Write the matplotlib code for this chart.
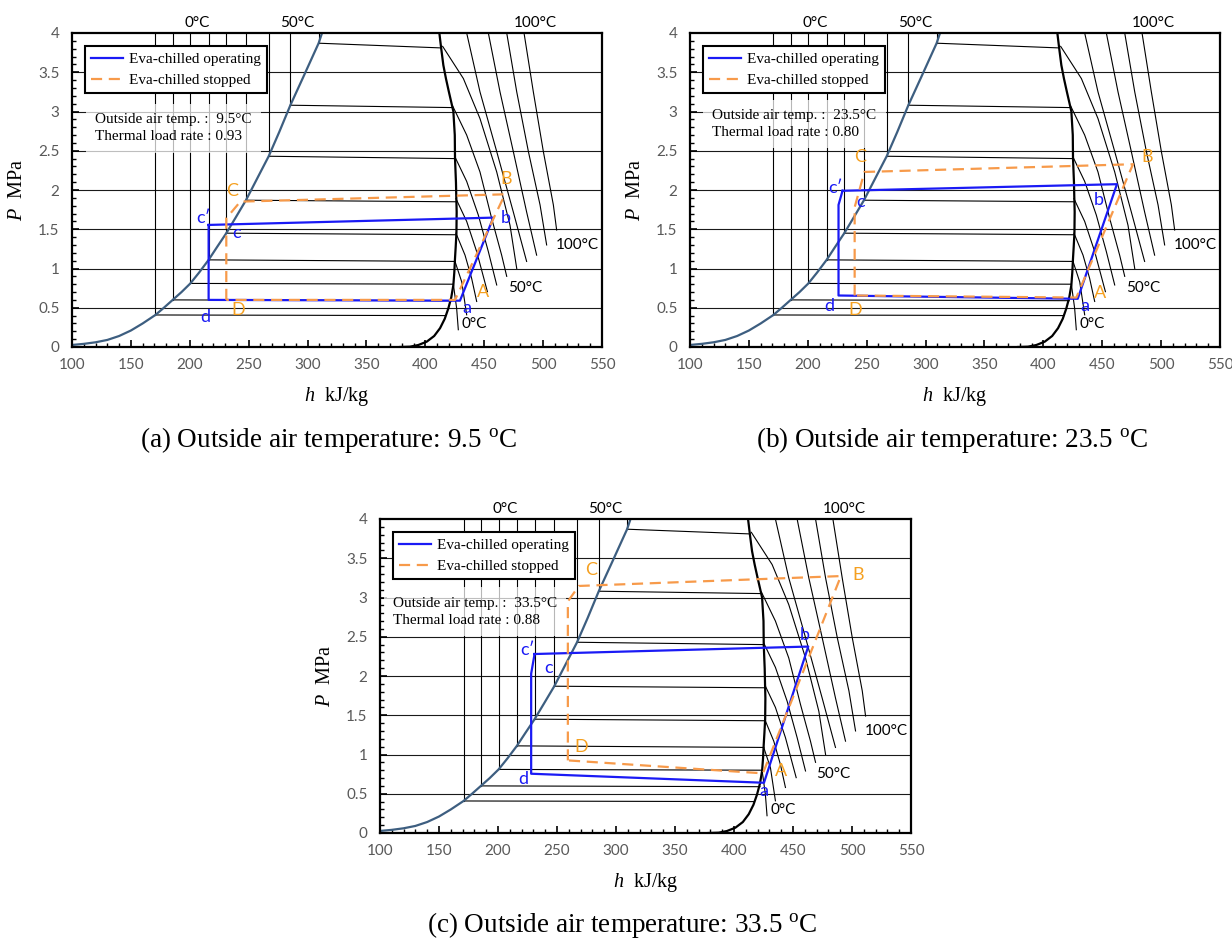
import matplotlib
matplotlib.use('Agg')
import matplotlib.pyplot as plt
from matplotlib.ticker import MultipleLocator

plt.rcParams['mathtext.fontset'] = 'custom'
plt.rcParams['mathtext.rm'] = 'Liberation Serif'
plt.rcParams['mathtext.it'] = 'Liberation Serif:italic'

# ---------------- background P-h chart (R410A-like) ----------------
liq_h = [100.0, 110.0, 120.0, 130.0, 140.0, 150.0, 160.0, 170.8, 178.0, 185.5, 193.0, 200.5,
         208.0, 216.0, 223.0, 231.0, 239.0, 247.7, 257.0, 267.0, 276.0, 285.4, 297.0, 309.4, 312.3]
liq_P = [0.026, 0.04, 0.06, 0.09, 0.14, 0.21, 0.30, 0.408, 0.50, 0.60, 0.70, 0.81,
         0.95, 1.11, 1.27, 1.45, 1.65, 1.87, 2.14, 2.43, 2.74, 3.08, 3.46, 3.87, 4.0]

vap_h = [411.9, 413.5, 415.3, 417.5, 420.0, 422.3, 423.8, 425.0, 425.2, 426.0, 426.3, 426.6,
         426.4, 425.8, 425.2, 424.6, 423.8, 422.0, 419.5, 416.5, 412.5, 407.5, 401.2, 394.0,
         387.0, 378.5]
vap_P = [4.0, 3.8, 3.59, 3.42, 3.25, 3.10, 3.00, 2.70, 2.40, 2.10, 1.90, 1.72,
         1.45, 1.28, 1.13, 0.95, 0.79, 0.63, 0.49, 0.36, 0.24, 0.14, 0.068, 0.025,
         0.004, 0.0]

# liquid-side isotherms (-20 .. 60 degC): vertical from saturated liquid to top
liqiso_h = [170.8, 185.5, 200.5, 216.0, 231.0, 247.7, 267.0, 285.4, 309.4]
liqiso_P = [0.408, 0.60, 0.81, 1.11, 1.45, 1.87, 2.43, 3.08, 3.87]
# two-phase isotherms end on the vapor line
tpiso_h_end = [417.0, 422.0, 423.8, 425.2, 426.3, 426.3, 425.2, 422.8, 413.5]
tpiso_P_end = [0.40, 0.59, 0.80, 1.09, 1.43, 1.85, 2.40, 3.05, 3.81]

# superheated isotherms 0 .. 100 degC
sh_h = [
    [423.8, 426.6, 428.0],
    [425.2, 430.9, 435.1],
    [426.0, 433.7, 439.3, 443.6],
    [426.0, 435.1, 443.6, 452.7],
    [425.2, 435.1, 445.0, 453.5, 460.6],
    [423.2, 435.1, 446.4, 456.3, 464.8, 469.1],
    [414.7, 432.3, 446.4, 460.6, 471.9, 477.6],
    [435.1, 446.4, 460.6, 474.7, 486.0],
    [453.5, 463.4, 474.7, 486.0, 494.5],
    [469.1, 477.6, 487.5, 497.4, 503.0],
    [483.8, 491.7, 500.2, 508.7, 511.5],
]
sh_P = [
    [0.80, 0.49, 0.22],
    [1.09, 0.83, 0.41],
    [1.45, 1.17, 0.875, 0.58],
    [1.89, 1.60, 1.215, 0.705],
    [2.42, 2.11, 1.68, 1.215, 0.79],
    [3.07, 2.70, 2.23, 1.64, 1.17, 0.90],
    [3.83, 3.42, 2.91, 2.23, 1.55, 1.00],
    [4.0, 3.25, 2.49, 1.72, 1.09],
    [4.0, 3.25, 2.49, 1.72, 1.17],
    [4.0, 3.25, 2.49, 1.81, 1.30],
    [4.0, 3.25, 2.49, 1.81, 1.49],
]

top_labels = ['0°C', '50°C', '100°C']
top_label_h = [206.5, 291.0, 493.6]
side_labels = ['0°C', '50°C', '100°C']
side_label_h = [431.0, 470.0, 511.0]
side_label_P = [0.29, 0.75, 1.30]

x_ticks = [100, 150, 200, 250, 300, 350, 400, 450, 500, 550]
y_ticks = [0, 0.5, 1, 1.5, 2, 2.5, 3, 3.5, 4]
y_ticklabels = ['0', '0.5', '1', '1.5', '2', '2.5', '3', '3.5', '4']

# ---------------- cycles ----------------
# (a) 9.5 degC
op_a_h = [216.0, 216.0, 429.4, 457.7, 216.0]
op_a_P = [1.555, 0.60, 0.59, 1.648, 1.555]
st_a_h = [231.0, 231.0, 242.9, 467.6, 425.2, 231.0]
st_a_P = [0.60, 1.64, 1.852, 1.945, 0.60, 0.60]
lab_a = [("c′", 211.8, 1.64, 'op'), ("c", 240.1, 1.45, 'op'), ("d", 213.2, 0.387, 'op'),
         ("C", 235.8, 1.99, 'st'), ("D", 240.7, 0.472, 'st'), ("a", 435.1, 0.50, 'op'),
         ("b", 468.5, 1.64, 'op'), ("A", 448.7, 0.705, 'st'), ("B", 468.5, 2.14, 'st')]
note_a = "Outside air temp. :  9.5°C\nThermal load rate : 0.93"
note_a_pos = (119.8, 2.785)

# (b) 23.5 degC
op_b_h = [229.5, 226.1, 226.1, 429.2, 462.5, 229.5]
op_b_P = [1.99, 1.81, 0.656, 0.614, 2.074, 1.99]
st_b_h = [239.8, 239.8, 248.1, 476.1, 428.0, 239.8]
st_b_P = [0.656, 1.78, 2.23, 2.328, 0.63, 0.656]
lab_b = [("c′", 223.8, 2.02, 'op'), ("c", 244.8, 1.85, 'op'), ("d", 218.2, 0.516, 'op'),
         ("C", 244.5, 2.42, 'st'), ("D", 240.5, 0.474, 'st'), ("a", 435.2, 0.516, 'op'),
         ("b", 446.8, 1.87, 'op'), ("A", 448.5, 0.694, 'st'), ("B", 487.8, 2.42, 'st')]
note_b = "Outside air temp. :  23.5°C\nThermal load rate : 0.80"
note_b_pos = (119.0, 2.84)

# (c) 33.5 degC
op_c_h = [231.0, 228.1, 228.1, 425.4, 462.9, 231.0]
op_c_P = [2.28, 2.03, 0.755, 0.64, 2.375, 2.28]
st_c_h = [259.2, 259.2, 268.5, 490.6, 424.5, 259.2]
st_c_P = [0.925, 2.95, 3.147, 3.273, 0.76, 0.925]
lab_c = [("c′", 224.6, 2.333, 'op'), ("c", 243.0, 2.10, 'op'), ("d", 221.5, 0.691, 'op'),
         ("C", 279.3, 3.35, 'st'), ("D", 270.7, 1.10, 'st'), ("a", 424.9, 0.53, 'op'),
         ("b", 460.3, 2.52, 'op'), ("A", 439.6, 0.785, 'st'), ("B", 505.3, 3.287, 'st')]
note_c = "Outside air temp. :  33.5°C\nThermal load rate : 0.88"
note_c_pos = (111.0, 2.82)

captions = [r"(a) Outside air temperature: 9.5 $^{\mathrm{o}}$C",
            r"(b) Outside air temperature: 23.5 $^{\mathrm{o}}$C",
            r"(c) Outside air temperature: 33.5 $^{\mathrm{o}}$C"]

BLUE = '#1A1AF5'
ORANGE = '#F79A4A'
ORANGE_TXT = '#F5A020'
LIQ = '#3D5E80'
TICKC = '#595959'
SANS = ['Lato', 'DejaVu Sans']
SERIF = ['Liberation Serif', 'DejaVu Serif']


def draw_panel(ax, op_h, op_P, st_h, st_P, labels, note, note_pos):
    ax.set_xlim(100, 550)
    ax.set_ylim(0, 4)
    for y in y_ticks[1:-1]:
        ax.axhline(y, color='#1a1a1a', lw=0.8, zorder=0.5)
    # dome
    ax.plot(liq_h, liq_P, color=LIQ, lw=1.6, zorder=2)
    ax.plot(vap_h, vap_P, color='black', lw=1.6, zorder=2)
    for h0, p0, h1, p1 in zip(liqiso_h, liqiso_P, tpiso_h_end, tpiso_P_end):
        ax.plot([h0, h0], [p0, 4.0], color='black', lw=0.8, zorder=1)
        ax.plot([h0, h1], [p0, p1], color='black', lw=0.8, zorder=1)
    for hs, ps in zip(sh_h, sh_P):
        ax.plot(hs, ps, color='black', lw=0.8, zorder=1)
    # cycles
    ax.plot(op_h, op_P, color=BLUE, lw=1.6, zorder=3, label='Eva-chilled operating')
    ax.plot(st_h, st_P, color=ORANGE, lw=1.6, ls=(0, (5, 3)), zorder=3,
            label='Eva-chilled stopped')
    for t, h, p, kind in labels:
        ax.text(h, p, t, color=BLUE if kind == 'op' else ORANGE_TXT, fontsize=13,
                family=SANS, ha='center', va='center', zorder=7)
    # iso labels
    for t, h in zip(top_labels, top_label_h):
        ax.text(h, 4.13, t, fontsize=11, family=SANS, ha='center', va='center',
                clip_on=False)
    for t, h, p in zip(side_labels, side_label_h, side_label_P):
        ax.text(h, p, t, fontsize=11, family=SANS, ha='left', va='center')
    ax.text(note_pos[0], note_pos[1], note, fontsize=11, family=SERIF, ha='left',
            va='center', linespacing=1.4, zorder=4,
            bbox=dict(boxstyle='square,pad=0.6', fc='white', ec='none', alpha=0.72))
    leg = ax.legend(loc='upper left', bbox_to_anchor=(0.024, 0.958), borderaxespad=0,
                    prop={'family': SERIF, 'size': 11}, fancybox=False, framealpha=1,
                    edgecolor='black', handlelength=2.1, borderpad=0.42, labelspacing=0.45,
                    handletextpad=0.35)
    leg.get_frame().set_linewidth(1.5)
    leg.set_zorder(5)
    # axes styling
    for s in ax.spines.values():
        s.set_linewidth(1.6)
        s.set_color('black')
    ax.set_xticks(x_ticks)
    ax.set_yticks(y_ticks)
    ax.set_yticklabels(y_ticklabels)
    ax.xaxis.set_minor_locator(MultipleLocator(10))
    ax.yaxis.set_minor_locator(MultipleLocator(0.1))
    ax.tick_params(which='both', direction='in', colors='black', labelcolor=TICKC,
                   labelsize=11, top=False, right=False)
    ax.tick_params(which='major', length=5, width=1.2)
    ax.tick_params(which='minor', length=3, width=1.0)
    ax.tick_params(axis='x', pad=8)
    ax.tick_params(axis='y', pad=9)
    for lab in ax.get_xticklabels() + ax.get_yticklabels():
        lab.set_family(SANS)
    ax.set_xlabel(r"$h$  kJ/kg", fontsize=14.5, family=SERIF, labelpad=9)
    ax.set_ylabel(r"$P$  MPa", fontsize=14.5, family=SERIF, labelpad=8)


fig = plt.figure(figsize=(12.32, 9.41), dpi=100)
W, H = 1232.0, 941.0
ax_a = fig.add_axes([72 / W, 1 - 347 / H, 530 / W, 314 / H])
ax_b = fig.add_axes([690 / W, 1 - 347 / H, 530 / W, 314 / H])
ax_c = fig.add_axes([380 / W, 1 - 833 / H, 531 / W, 314 / H])

draw_panel(ax_a, op_a_h, op_a_P, st_a_h, st_a_P, lab_a, note_a, note_a_pos)
draw_panel(ax_b, op_b_h, op_b_P, st_b_h, st_b_P, lab_b, note_b, note_b_pos)
draw_panel(ax_c, op_c_h, op_c_P, st_c_h, st_c_P, lab_c, note_c, note_c_pos)

fig.text(328 / W, 1 - 440 / H, captions[0], fontsize=19.5, family=SERIF, ha='center', va='center')
fig.text(952 / W, 1 - 440 / H, captions[1], fontsize=19.5, family=SERIF, ha='center', va='center')
fig.text(622 / W, 1 - 925 / H, captions[2], fontsize=19.5, family=SERIF, ha='center', va='center')

fig.savefig('out.png', dpi=100)
